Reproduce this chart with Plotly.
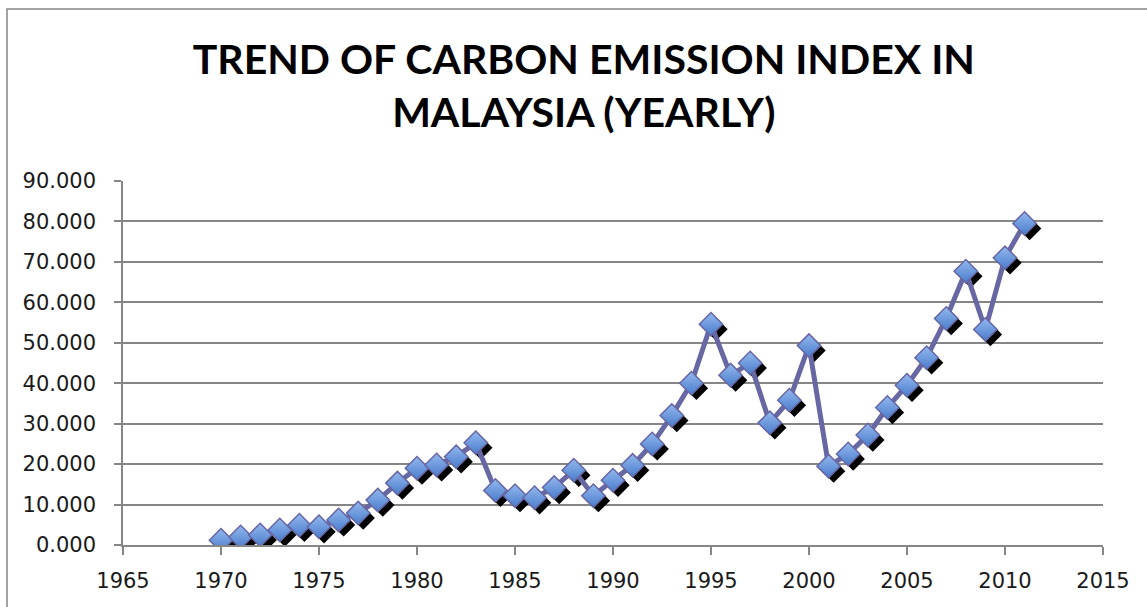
import plotly.graph_objects as go

years = list(range(1970, 2012))
index_values = [1.2, 2.0, 2.5, 3.7, 4.9, 4.5, 6.2, 7.9, 11.1, 15.3,
                19.0, 19.8, 21.8, 25.3, 13.5, 12.2, 11.7, 14.2, 18.5, 12.2,
                16.0, 19.7, 25.0, 32.0, 40.0, 54.6, 42.0, 45.0, 30.2, 35.8,
                49.3, 19.5, 22.5, 27.2, 34.0, 39.5, 46.3, 56.0, 67.7, 53.3,
                71.0, 79.5]
title_text = "TREND OF CARBON EMISSION INDEX IN<br>MALAYSIA (YEARLY)"

X_RANGE = [1965, 2015]
Y_RANGE = [0, 90]

# plot area in pixels
W, H = 1147, 607
L, R, T, B = 123, 44, 181, 62
pw, ph = W - L - R, H - T - B
dx_px, dy_px = 5, 5
x_shift = dx_px / pw * (X_RANGE[1] - X_RANGE[0])
y_shift = dy_px / ph * (Y_RANGE[1] - Y_RANGE[0])

fig = go.Figure()

# invisible trace so the base axes are drawn
fig.add_trace(go.Scatter(
    x=years, y=index_values, mode="lines", line=dict(width=0, color="rgba(0,0,0,0)"),
    hoverinfo="skip", showlegend=False))

# shadow markers on shifted overlay axes
fig.add_trace(go.Scatter(
    x=years, y=index_values, xaxis="x2", yaxis="y2", mode="markers",
    marker=dict(symbol="diamond", size=18, color="black",
                line=dict(width=0)),
    hoverinfo="skip", showlegend=False))

# main series
fig.add_trace(go.Scatter(
    x=years, y=index_values, xaxis="x3", yaxis="y3", mode="lines+markers",
    line=dict(color="#6767A3", width=5),
    marker=dict(symbol="diamond", size=18, color="#93B8EE",
                gradient=dict(type="vertical", color="#4A7CCC"),
                line=dict(color="#6767A3", width=1.5)),
    showlegend=False))

tickfont = dict(family="'DejaVu Sans', sans-serif", size=21, color="#1a1a1a")
fig.update_layout(
    width=W, height=H,
    margin=dict(l=L, r=R, t=T, b=B),
    paper_bgcolor="white", plot_bgcolor="white",
    title=dict(text=title_text, x=0.509, xanchor="center", y=0.8785, yanchor="top",
               font=dict(family="Lato, 'Open Sans', sans-serif", size=41, color="black", weight="bold")),
    xaxis=dict(range=X_RANGE, dtick=5, tick0=1965, showgrid=False, zeroline=False,
               showline=True, linecolor="#868686", linewidth=1.5,
               ticks="outside", ticklen=8, tickcolor="#868686", tickwidth=1.5,
               tickfont=tickfont, ticklabelstandoff=8),
    yaxis=dict(range=Y_RANGE, dtick=10, tickformat=".3f", showgrid=True,
               gridcolor="#868686", gridwidth=1.5, zeroline=False,
               showline=True, linecolor="#868686", linewidth=1.5,
               ticks="outside", ticklen=7, tickcolor="#868686", tickwidth=1.5,
               tickfont=tickfont, ticklabelstandoff=14),
    xaxis2=dict(range=[X_RANGE[0] - x_shift, X_RANGE[1] - x_shift], overlaying="x",
                visible=False),
    yaxis2=dict(range=[Y_RANGE[0] + y_shift, Y_RANGE[1] + y_shift], overlaying="y",
                visible=False),
    xaxis3=dict(range=X_RANGE, overlaying="x", visible=False),
    yaxis3=dict(range=Y_RANGE, overlaying="y", visible=False),
)

# outer chart border
fig.add_shape(type="rect", xref="paper", yref="paper",
              x0=(7 - L) / pw, x1=(1160 - L) / pw,
              y0=1 - (620 - T) / ph, y1=1 - (9 - T) / ph,
              line=dict(color="#868686", width=1.5), fillcolor="rgba(0,0,0,0)",
              layer="below")

fig.write_html("out.html", config={"displayModeBar": False},
               post_script="document.body.style.margin='0px';")
